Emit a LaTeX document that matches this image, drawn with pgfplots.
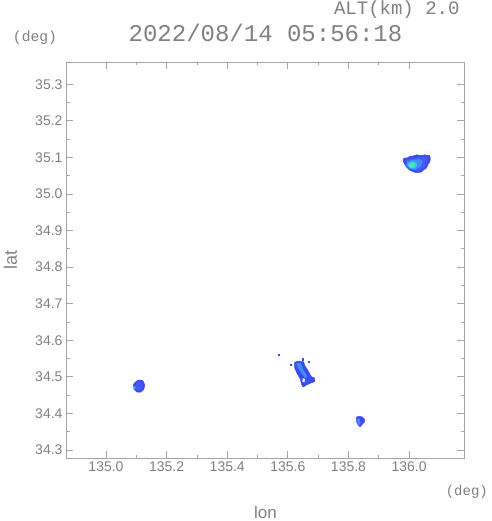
\documentclass[border=0pt]{standalone}
\usepackage{fontspec}
\setmainfont{Liberation Sans}
\newfontfamily\mono{Liberation Mono}
\usepackage{pgfplots}
\pgfplotsset{compat=1.18}
\definecolor{txt}{RGB}{128,128,128}
\definecolor{axl}{RGB}{165,165,165}
\definecolor{rb}{RGB}{70,88,245}
\definecolor{rbd}{RGB}{60,75,240}
\definecolor{lb}{RGB}{64,140,255}
\definecolor{cy}{RGB}{50,200,230}
\definecolor{gr}{RGB}{80,235,160}
\begin{document}
\begin{tikzpicture}[x=1pt,y=1pt]
\path[use as bounding box] (-66,-63) rectangle (425,458);
\begin{axis}[
  at={(0,0)}, anchor=south west,
  scale only axis, width=398pt, height=396pt,
  xmin=134.868, xmax=136.181, ymin=34.278, ymax=35.361,
  xtick={135.0,135.2,135.4,135.6,135.8,136.0},
  ytick={34.3,34.4,34.5,34.6,34.7,34.8,34.9,35.0,35.1,35.2,35.3},
  minor x tick num=1, minor y tick num=1,
  tick align=inside, tick pos=both,
  major tick length=7pt, minor tick length=3.5pt,
  axis line style={axl, line width=0.9pt},
  every tick/.style={axl, line width=0.8pt},
  every minor tick/.style={axl, line width=0.8pt},
  tick label style={txt, font=\fontsize{14}{14}\selectfont,
    /pgf/number format/.cd, fixed, fixed zerofill, precision=1, assume math mode=true},
  clip=true,
]
% NE cell
\addplot[fill=rbd, draw=rbd, line width=0.5pt] coordinates {
(135.982,35.098) (135.995,35.099) (136.002,35.103) (136.014,35.104) (136.024,35.107)
(136.040,35.105) (136.052,35.107) (136.068,35.105) (136.070,35.096) (136.068,35.088)
(136.062,35.080) (136.057,35.071) (136.048,35.066) (136.040,35.060) (136.024,35.058)
(136.010,35.062) (136.001,35.066) (135.992,35.073) (135.985,35.082) (135.980,35.090)} -- cycle;
\addplot[fill=rb, draw=none] coordinates {
(135.990,35.094) (136.010,35.098) (136.030,35.101) (136.050,35.101) (136.064,35.097)
(136.060,35.084) (136.050,35.072) (136.030,35.063) (136.010,35.066) (135.992,35.078)} -- cycle;
\addplot[fill=lb, draw=none] coordinates {
(135.995,35.090) (136.015,35.094) (136.032,35.096) (136.045,35.090) (136.040,35.076)
(136.022,35.066) (136.002,35.069) (135.990,35.080)} -- cycle;
\addplot[fill=cy, draw=none] coordinates {
(135.998,35.085) (136.012,35.090) (136.024,35.086) (136.026,35.077) (136.016,35.069)
(136.002,35.071) (135.995,35.078)} -- cycle;
\addplot[fill=gr, draw=none] coordinates {
(136.003,35.082) (136.011,35.086) (136.018,35.081) (136.016,35.073) (136.006,35.072)
(136.001,35.077)} -- cycle;
% SW cell
\addplot[fill=rbd, draw=rbd, line width=0.5pt] coordinates {
(135.095,34.484) (135.105,34.491) (135.118,34.491) (135.124,34.486) (135.128,34.476)
(135.124,34.465) (135.115,34.458) (135.103,34.458) (135.093,34.465) (135.089,34.472)
(135.091,34.480)} -- cycle;
\addplot[fill=rb, draw=none] coordinates {
(135.100,34.484) (135.112,34.487) (135.121,34.478) (135.118,34.466) (135.106,34.462)
(135.096,34.470)} -- cycle;
\addplot[fill=cy, draw=none] coordinates {
(135.089,34.467) (135.097,34.467) (135.097,34.474) (135.090,34.474)} -- cycle;
% S cell
\addplot[fill=rbd, draw=rbd, line width=0.5pt] coordinates {
(135.826,34.390) (135.836,34.392) (135.846,34.390) (135.853,34.384) (135.852,34.376)
(135.845,34.370) (135.838,34.363) (135.832,34.368) (135.826,34.378)} -- cycle;
\addplot[fill=lb, draw=none] coordinates {
(135.827,34.386) (135.836,34.386) (135.840,34.374) (135.836,34.366) (135.829,34.376)} -- cycle;
% middle cell
\addplot[fill=rbd, draw=rbd, line width=0.5pt] coordinates {
(135.622,34.540) (135.635,34.543) (135.652,34.541) (135.656,34.530) (135.665,34.519)
(135.672,34.508) (135.678,34.500) (135.688,34.497) (135.689,34.487) (135.678,34.484)
(135.662,34.478) (135.650,34.472) (135.646,34.478) (135.640,34.495) (135.630,34.510)
(135.622,34.525)} -- cycle;
\addplot[fill=lb, draw=none] coordinates {
(135.628,34.537) (135.642,34.539) (135.652,34.518) (135.664,34.502) (135.656,34.497)
(135.642,34.514) (135.632,34.526)} -- cycle;
\addplot[fill=white, draw=none] coordinates {
(135.649,34.496) (135.656,34.494) (135.655,34.485) (135.648,34.487)} -- cycle;
\addplot[only marks, mark=square*, mark size=0.8pt, color=rbd] coordinates {
(135.570,34.560) (135.609,34.533) (135.649,34.549) (135.669,34.541) (135.664,34.492)};
\end{axis}
\node[txt, anchor=east, font=\mono\fontsize{19}{19}\selectfont] at (397,448) {ALT(km) 2.0};
\node[txt, font=\mono\fontsize{24}{24}\selectfont] at (199.5,425.5) {2022/08/14 05:56:18};
\node[txt, font=\mono\fontsize{14.7}{14.7}\selectfont] at (-31,420.5) {(deg)};
\node[txt, anchor=east, inner sep=1pt, font=\mono\fontsize{14}{14}\selectfont] at (423,-34) {(deg)};
\node[txt, inner sep=1pt, font=\fontsize{17}{17}\selectfont] at (199.5,-54) {lon};
\node[txt, rotate=90, font=\fontsize{18}{18}\selectfont] at (-55.5,198) {lat};
\end{tikzpicture}
\end{document}
